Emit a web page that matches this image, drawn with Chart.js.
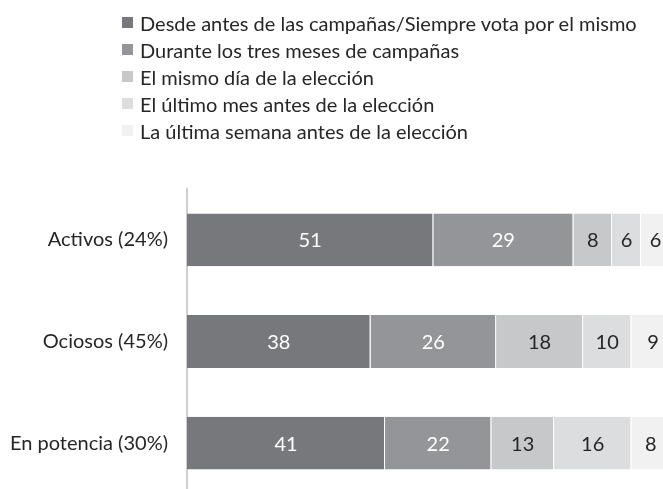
<!DOCTYPE html>
<html lang="es">
<head>
  <meta charset="UTF-8">
  <title>Momento de decisión del voto</title>
  <script src="https://cdn.jsdelivr.net/npm/chart.js"></script>
  <style>
    body {
      margin: 0;
      background: #fff;
      overflow: hidden;
      font-family: Lato, sans-serif;
    }
    .wrap {
      position: relative;
      width: 680px;
      height: 525px;
    }
    #legend {
      position: absolute;
      left: 122px;
      top: 9px;
      font-size: 20px;
      color: #262626;
    }
    .item {
      height: 27px;
      display: flex;
      align-items: center;
      white-space: nowrap;
    }
    .box {
      width: 11px;
      height: 11px;
      margin-right: 7px;
      flex: none;
    }
  </style>
</head>
<body>
  <div class="wrap">
    <canvas id="votoChart" width="680" height="525"></canvas>
    <div id="legend"></div>
  </div>
  <script>
    const groups = ["Activos (24%)", "Ociosos (45%)", "En potencia (30%)"];
    const seriesNames = [
      "Desde antes de las campañas/Siempre vota por el mismo",
      "Durante los tres meses de campañas",
      "El mismo día de la elección",
      "El último mes antes de la elección",
      "La última semana antes de la elección"
    ];
    const desdeAntes = [51, 38, 41];
    const duranteCampanas = [29, 26, 22];
    const mismoDia = [8, 18, 13];
    const ultimoMes = [6, 10, 16];
    const ultimaSemana = [6, 9, 8];

    const colors = ['#77787b', '#939598', '#c7c8ca', '#dcdddf', '#f1f1f2'];
    const labelColors = ['#ffffff', '#ffffff', '#262626', '#262626', '#262626'];
    const values = [desdeAntes, duranteCampanas, mismoDia, ultimoMes, ultimaSemana];

    // numbers in the middle of each segment
    const valueLabels = {
      id: 'valueLabels',
      afterDatasetsDraw(chart) {
        const ctx = chart.ctx;
        ctx.save();
        ctx.font = '20px Lato, sans-serif';
        ctx.textAlign = 'center';
        ctx.textBaseline = 'middle';
        chart.data.datasets.forEach((ds, i) => {
          chart.getDatasetMeta(i).data.forEach((bar, j) => {
            const p = bar.getProps(['x', 'y', 'base'], true);
            ctx.fillStyle = labelColors[i];
            ctx.fillText(ds.data[j], (p.x + p.base) / 2, p.y + 1);
          });
        });
        ctx.restore();
      }
    };

    const chart = new Chart(document.getElementById('votoChart'), {
      type: 'bar',
      data: {
        labels: groups,
        datasets: seriesNames.map((name, i) => ({
          label: name,
          data: values[i],
          backgroundColor: colors[i],
          borderColor: '#ffffff',
          borderWidth: { right: 1 },
          borderSkipped: 'start',
          categoryPercentage: 1,
          barPercentage: 0.52
        }))
      },
      options: {
        indexAxis: 'y',
        responsive: false,
        animation: false,
        layout: { padding: { top: 189, bottom: 6, right: 10, left: 0 } },
        plugins: {
          legend: { display: false },
          tooltip: { enabled: false }
        },
        scales: {
          x: {
            stacked: true,
            display: false,
            min: 0,
            max: 100
          },
          y: {
            stacked: true,
            afterFit: (s) => { s.width = 187; },
            grid: { display: false, drawTicks: false },
            border: { display: true, color: '#cfcfcf', width: 2 },
            ticks: {
              padding: 19,
              color: '#262626',
              font: { family: 'Lato', size: 20 }
            }
          }
        }
      },
      plugins: [valueLabels]
    });

    const legendEl = document.getElementById('legend');
    Chart.defaults.plugins.legend.labels.generateLabels(chart).forEach((it) => {
      const row = document.createElement('div');
      row.className = 'item';
      const box = document.createElement('span');
      box.className = 'box';
      box.style.background = it.fillStyle;
      row.appendChild(box);
      row.appendChild(document.createTextNode(it.text));
      legendEl.appendChild(row);
    });
  </script>
</body>
</html>
